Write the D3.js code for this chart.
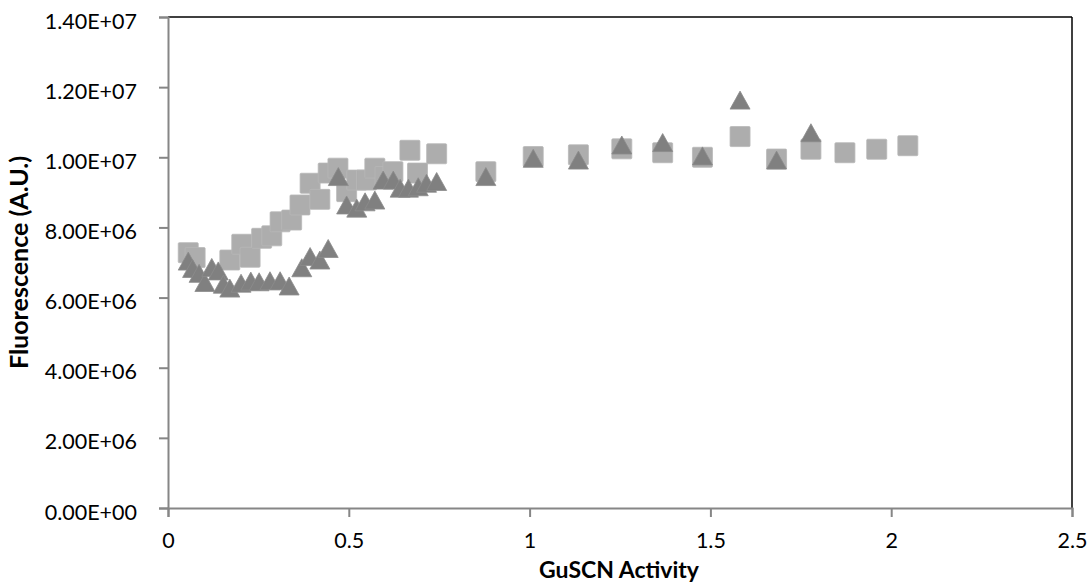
<!DOCTYPE html>
<html><head><meta charset="utf-8">
<script src="https://cdn.jsdelivr.net/npm/d3@7"></script>
<style>body{margin:0;background:#fff}svg{display:block}</style>
</head><body>
<svg id="c" width="1092" height="588"></svg>
<script>
// ---- data ----
const squareX = [0.056,0.075,0.171,0.204,0.227,0.259,0.287,0.31,0.342,0.365,0.393,0.42,0.443,0.47,0.494,0.522,0.549,0.572,0.60,0.622,0.669,0.69,0.743,0.879,1.01,1.135,1.255,1.368,1.478,1.582,1.683,1.778,1.872,1.96,2.046];
const squareY = [7.28,7.14,7.07,7.52,7.15,7.69,7.76,8.16,8.21,8.64,9.26,8.80,9.55,9.69,9.02,9.35,9.35,9.69,9.45,9.59,10.2,9.55,10.1,9.59,10.02,10.07,10.24,10.13,10.0,10.59,9.95,10.23,10.13,10.23,10.33].map(v=>v*1e6);
const triX = [0.056,0.068,0.086,0.102,0.121,0.139,0.153,0.171,0.202,0.229,0.252,0.282,0.31,0.335,0.37,0.393,0.42,0.443,0.471,0.494,0.522,0.545,0.572,0.595,0.623,0.642,0.665,0.692,0.715,0.743,0.879,1.01,1.135,1.255,1.368,1.478,1.582,1.683,1.778];
const triY = [7.04,6.83,6.69,6.43,6.86,6.76,6.38,6.27,6.41,6.47,6.45,6.48,6.48,6.33,6.85,7.17,7.07,7.40,9.45,8.64,8.55,8.73,8.78,9.35,9.35,9.12,9.12,9.16,9.26,9.31,9.45,9.97,9.92,10.35,10.42,10.04,11.63,9.92,10.70].map(v=>v*1e6);
const xTicks = [0,0.5,1,1.5,2,2.5];
const yTicks = [0,2e6,4e6,6e6,8e6,10e6,12e6,14e6];
const xTitle = "GuSCN Activity";
const yTitle = "Fluorescence (A.U.)";

// ---- layout ----
const svg = d3.select("#c");
const L = 168, R = 1072, T = 17, B = 508;
const x = d3.scaleLinear().domain([0,2.5]).range([L,R]);
const y = d3.scaleLinear().domain([0,1.4e7]).range([B,T]);
const font = "Lato, 'Open Sans', sans-serif";
const axisCol = "#868686";
const tickFont = 21.5;

function fmtE(v){
  if (v===0) return "0.00E+00";
  const e = Math.floor(Math.log10(Math.abs(v))+1e-9);
  const m = v/Math.pow(10,e);
  return m.toFixed(2)+"E"+(e<0?"-":"+")+String(Math.abs(e)).padStart(2,"0");
}

// frame (top and right)
svg.append("line").attr("x1",L).attr("x2",R).attr("y1",T).attr("y2",T).attr("stroke","#000").attr("stroke-width",1.5);
svg.append("line").attr("x1",R).attr("x2",R).attr("y1",T).attr("y2",B).attr("stroke","#000").attr("stroke-width",1.5);

// y axis
const ya = svg.append("g").attr("transform",`translate(${L},0)`)
  .call(d3.axisLeft(y).tickValues(yTicks).tickFormat(fmtE).tickSize(9).tickPadding(22));
ya.select(".domain").attr("stroke",axisCol).attr("stroke-width",2);
ya.selectAll(".tick line").attr("stroke",axisCol).attr("stroke-width",2);
ya.selectAll("text").attr("font-family",font).attr("font-size",tickFont).attr("fill","#000")
  .attr("dy",null).attr("y",11);

// x axis
const xa = svg.append("g").attr("transform",`translate(0,${B})`)
  .call(d3.axisBottom(x).tickValues(xTicks).tickFormat(d3.format("")).tickSize(9).tickPadding(10));
xa.select(".domain").attr("stroke",axisCol).attr("stroke-width",2);
xa.selectAll(".tick line").attr("stroke",axisCol).attr("stroke-width",2);
xa.selectAll("text").attr("font-family",font).attr("font-size",tickFont).attr("fill","#000")
  .attr("dy",null).attr("y",40);

// titles
svg.append("text").attr("x",619).attr("y",578).attr("text-anchor","middle")
  .attr("font-family",font).attr("font-weight","bold").attr("font-size",23).text(xTitle);
svg.append("text").attr("transform",`translate(28,${(T+B)/2}) rotate(-90)`).attr("text-anchor","middle")
  .attr("font-family",font).attr("font-weight","bold").attr("font-size",25).text(yTitle);

// squares
const sq = 20;
svg.append("g").selectAll("rect").data(d3.zip(squareX,squareY)).join("rect")
  .attr("x",d=>x(d[0])-sq/2).attr("y",d=>y(d[1])-sq/2).attr("width",sq).attr("height",sq)
  .attr("rx",1).attr("fill","#ADADAD").attr("stroke","#B8B8B8").attr("stroke-width",0.8);

// triangles
const tw = 20, th = 18;
svg.append("g").selectAll("path").data(d3.zip(triX,triY)).join("path")
  .attr("d",d=>{const cx=x(d[0]), cy=y(d[1]); return `M${cx},${cy-th/2}L${cx+tw/2},${cy+th/2}L${cx-tw/2},${cy+th/2}Z`;})
  .attr("fill","#808080").attr("stroke","#8C8C8C").attr("stroke-width",0.8);
</script>
</body></html>
